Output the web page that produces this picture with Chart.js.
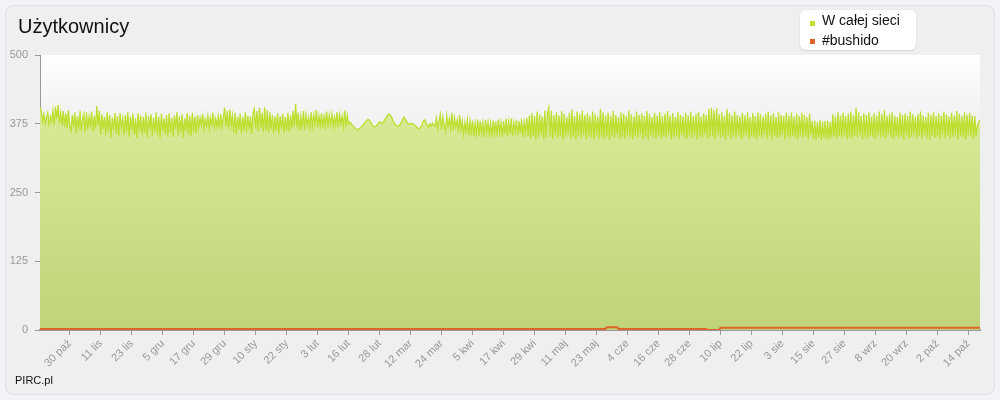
<!DOCTYPE html>
<html>
<head>
<meta charset="utf-8">
<script src="https://cdn.jsdelivr.net/npm/chart.js@4/dist/chart.umd.min.js"></script>
<style>
  html, body { margin: 0; padding: 0; }
  body { width: 1000px; height: 400px; background: #f3f4f8; position: relative; overflow: hidden; font-family: "Liberation Sans", Arial, sans-serif; }
  #panel { position: absolute; left: 5px; top: 5px; width: 988px; height: 388px; background: #efefef; border: 1px solid #e2e3e8; border-radius: 8px; }
  #chartWrap { position: absolute; left: 0; top: 0; width: 1000px; height: 400px; }
  #title { position: absolute; left: 18px; top: 15px; font-size: 20px; color: #111; }
  #legend { position: absolute; left: 800px; top: 10px; width: 116px; height: 40px; background: #fff; border-radius: 6px; box-shadow: 0 1px 2px rgba(0,0,0,0.12); }
  .li { position: absolute; left: 22px; font-size: 14px; color: #111; white-space: nowrap; }
  .sw { position: absolute; left: 10px; width: 5px; height: 5px; }
  #credit { position: absolute; left: 15px; top: 374px; font-size: 11px; color: #111; }
</style>
</head>
<body>
<div id="panel"></div>
<div id="chartWrap"><canvas id="c" width="1000" height="400"></canvas></div>
<div id="title">Użytkownicy</div>
<div id="legend"></div>
<div id="credit">PIRC.pl</div>
<script>
const seriesNames = ['W całej sieci', '#bushido'];
const seriesColors = ['#bddf2f', '#e0622b'];

// tick labels (dates) and the sample index at which each one falls (2 samples per day)
const tickLabels = ['30 paź','11 lis','23 lis','5 gru','17 gru','29 gru','10 sty','22 sty','3 lut','16 lut',
  '28 lut','12 mar','24 mar','5 kwi','17 kwi','29 kwi','11 maj','23 maj','4 cze','16 cze',
  '28 cze','10 lip','22 lip','3 sie','15 sie','27 sie','8 wrz','20 wrz','2 paź','14 paź'];
const firstTickSample = 23;
const samplesPerTick = 24;

// users in the whole network, two samples per day
const allUsers = [
405,398,380,392,376,386,395,374,388,379,399,372,406,384,409,376,395,372,398,369,
394,366,400,371,362,391,368,396,358,389,366,398,361,384,393,359,396,365,388,372,
397,360,389,366,407,372,398,356,392,365,388,354,396,361,391,350,386,364,395,357,
389,352,394,368,384,355,391,360,396,351,388,363,393,356,385,349,394,362,390,354,
387,358,395,350,389,364,392,353,386,360,396,355,388,349,393,361,385,356,391,352,
394,359,386,351,390,365,396,354,388,360,392,350,385,362,394,356,389,353,395,360,
388,357,391,368,385,372,393,366,383,371,390,367,386,373,395,368,384,370,389,366,
392,369,386,404,370,398,365,401,372,390,360,395,356,388,364,393,358,387,362,396,
359,390,364,388,357,394,402,366,398,361,404,367,395,360,405,363,400,358,396,365,
391,357,388,362,394,356,389,365,393,358,387,363,395,360,390,366,398,371,411,368,
395,362,388,370,398,364,392,372,386,368,396,370,391,373,400,369,389,371,394,367,
388,372,397,368,390,374,393,370,387,373,396,369,392,375,389,370,399,372,391,374,
378,375,372,370,367,365,364,366,367,370,372,375,378,381,383,382,378,374,371,369,
370,373,376,378,377,376,378,382,386,390,393,392,388,383,378,374,371,370,372,374,
378,384,387,383,379,376,374,375,376,374,373,371,368,366,367,369,374,380,382,377,
372,368,375,371,376,373,370,385,366,379,392,364,387,372,362,389,370,384,366,395,
363,386,369,381,360,391,365,380,356,377,362,382,354,379,359,381,352,376,357,383,
353,380,358,377,351,382,360,378,355,376,352,381,357,379,354,383,359,377,351,380,
356,384,353,379,358,385,352,377,360,382,354,380,357,384,351,378,359,386,353,390,
348,394,353,389,346,397,351,392,355,388,347,399,350,393,404,352,398,347,391,354,
396,349,390,353,398,346,393,351,387,355,395,348,401,352,389,346,397,353,392,349,
399,355,391,347,394,352,389,350,397,346,392,354,388,348,402,351,396,347,390,353,
395,346,389,352,398,349,391,355,387,347,396,351,393,348,389,354,399,350,392,346,
388,353,397,349,391,355,394,347,389,352,398,346,392,354,387,350,395,348,390,353,
396,347,389,352,393,349,398,355,390,346,394,351,387,353,396,348,391,355,388,350,
395,347,390,353,397,349,389,354,393,346,396,352,388,349,394,355,391,348,402,351,
404,352,399,347,403,355,392,349,396,353,389,346,402,354,395,348,390,352,397,349,
391,354,388,347,395,351,390,355,396,348,387,352,394,350,389,346,396,353,392,349,
388,355,393,348,397,352,390,346,394,353,387,349,396,351,391,355,389,347,395,352,
390,348,396,353,388,350,393,346,389,354,395,349,391,352,387,347,393,355,380,348,
381,346,378,349,382,345,379,350,380,347,381,346,378,349,392,352,388,348,396,353,
390,349,395,354,389,347,393,351,397,348,391,353,404,350,396,355,389,347,394,352,
391,348,396,353,388,350,394,347,390,354,397,349,392,352,400,348,389,355,393,350,
396,347,390,353,387,349,395,352,391,346,394,354,389,348,397,351,392,355,388,349,
393,353,397,348,390,354,387,350,395,346,391,353,396,349,389,352,394,347,390,355,
397,349,392,353,388,348,395,351,390,355,398,347,393,352,389,350,396,346,391,354,
395,352,390,348,389,353,372,378,382];

// users on #bushido, same samples
const bushidoUsers = [
2,2,2,2,2,2,2,2,2,2,2,2,2,2,2,2,2,2,2,2,
2,2,2,2,2,2,2,2,2,2,2,2,2,2,2,2,2,2,2,2,
2,2,2,2,2,2,2,2,2,2,2,2,2,2,2,2,2,2,2,2,
2,2,2,2,2,2,2,2,2,2,2,2,2,2,2,2,2,2,2,2,
2,2,2,2,2,2,2,2,2,2,2,2,2,2,2,2,2,2,2,2,
2,2,2,2,2,2,2,2,2,2,2,2,2,2,2,2,2,2,2,2,
2,2,2,2,2,2,2,2,2,2,2,2,2,2,2,2,2,2,2,2,
2,2,2,2,2,2,2,2,2,2,2,2,2,2,2,2,2,2,2,2,
2,2,2,2,2,2,2,2,2,2,2,2,2,2,2,2,2,2,2,2,
2,2,2,2,2,2,2,2,2,2,2,2,2,2,2,2,2,2,2,2,
2,2,2,2,2,2,2,2,2,2,2,2,2,2,2,2,2,2,2,2,
2,2,2,2,2,2,2,2,2,2,2,2,2,2,2,2,2,2,2,2,
2,2,2,2,2,2,2,2,2,2,2,2,2,2,2,2,2,2,2,2,
2,2,2,2,2,2,2,2,2,2,2,2,2,2,2,2,2,2,2,2,
2,2,2,2,2,2,2,2,2,2,2,2,2,2,2,2,2,2,2,2,
2,2,2,2,2,2,2,2,2,2,2,2,2,2,2,2,2,2,2,2,
2,2,2,2,2,2,2,2,2,2,2,2,2,2,2,2,2,2,2,2,
2,2,2,2,2,2,2,2,2,2,2,2,2,2,2,2,2,2,2,2,
2,2,2,2,2,2,2,2,2,2,2,2,2,2,2,2,2,2,2,2,
2,2,2,2,2,2,2,2,2,2,2,2,2,2,2,2,2,2,2,2,
2,2,2,2,2,2,2,2,2,2,2,2,2,2,2,2,2,2,2,2,
2,2,2,2,2,2,2,2,2,2,2,2,2,2,2,2,2,2,2,5,
5,5,5,5,5,5,5,5,2,2,2,2,2,2,2,2,2,2,2,2,
2,2,2,2,2,2,2,2,2,2,2,2,2,2,2,2,2,2,2,2,
2,2,2,2,2,2,2,2,2,2,2,2,2,2,2,2,2,2,2,2,
2,2,2,2,2,2,2,2,2,2,2,2,2,2,2,2,2,0,0,0,
0,0,0,0,0,0,0,4,4,4,4,4,4,4,4,4,4,4,4,4,
4,4,4,4,4,4,4,4,4,4,4,4,4,4,4,4,4,4,4,4,
4,4,4,4,4,4,4,4,4,4,4,4,4,4,4,4,4,4,4,4,
4,4,4,4,4,4,4,4,4,4,4,4,4,4,4,4,4,4,4,4,
4,4,4,4,4,4,4,4,4,4,4,4,4,4,4,4,4,4,4,4,
4,4,4,4,4,4,4,4,4,4,4,4,4,4,4,4,4,4,4,4,
4,4,4,4,4,4,4,4,4,4,4,4,4,4,4,4,4,4,4,4,
4,4,4,4,4,4,4,4,4,4,4,4,4,4,4,4,4,4,4,4,
4,4,4,4,4,4,4,4,4,4,4,4,4,4,4,4,4,4,4,4,
4,4,4,4,4,4,4,4,4,4,4,4,4,4,4,4,4,4,4,4,
4,4,4,4,4,4,4,4,4];

const yTicks = [0, 125, 250, 375, 500];

// sample index of each value (used as x)
const sampleIndex = allUsers.map((_, i) => i);

// legend (HTML)
const legend = document.getElementById('legend');
seriesNames.forEach((n, i) => {
  const sw = document.createElement('div'); sw.className = 'sw';
  sw.style.top = (11 + i * 18) + 'px'; sw.style.background = seriesColors[i];
  const li = document.createElement('div'); li.className = 'li';
  li.style.top = (2 + i * 20) + 'px'; li.textContent = n;
  legend.appendChild(sw); legend.appendChild(li);
});

const plotBg = {
  id: 'plotBg',
  beforeDraw(chart) {
    const { ctx, chartArea: a } = chart;
    const g = ctx.createLinearGradient(0, a.top, 0, a.bottom);
    g.addColorStop(0, '#ffffff');
    g.addColorStop(0.2, '#f3f3f3');
    g.addColorStop(1, '#e6e6e6');
    ctx.save(); ctx.fillStyle = g; ctx.fillRect(a.left, a.top, a.width, a.height); ctx.restore();
  }
};

function greenFill(context) {
  const { chart } = context; const { ctx, chartArea } = chart;
  if (!chartArea) return 'rgba(200,220,130,1)';
  const g = ctx.createLinearGradient(0, chartArea.top, 0, chartArea.bottom);
  g.addColorStop(0, '#def09c');
  g.addColorStop(1, '#c1d378');
  return g;
}

Chart.defaults.font.family = '"Liberation Sans", Arial, sans-serif';
new Chart(document.getElementById('c'), {
  type: 'line',
  data: {
    labels: sampleIndex,
    datasets: [
      { label: seriesNames[1], data: bushidoUsers, borderColor: seriesColors[1], borderWidth: 2, pointRadius: 0, tension: 0, fill: false, order: 0 },
      { label: seriesNames[0], data: allUsers, borderColor: seriesColors[0], backgroundColor: greenFill, borderWidth: 1.3, pointRadius: 0, tension: 0, fill: 'origin', order: 1 }
    ]
  },
  options: {
    responsive: false, animation: false,
    layout: { padding: { top: 55, right: 20, left: 0, bottom: 0 } },
    plugins: { legend: { display: false }, title: { display: false }, tooltip: { enabled: false } },
    scales: {
      x: {
        type: 'linear', min: 0, max: allUsers.length - 1,
        afterFit(s) { s.height = 70; },
        afterBuildTicks(s) { s.ticks = tickLabels.map((t, k) => ({ value: firstTickSample + k * samplesPerTick })); },
        border: { display: true, color: '#999', width: 2 },
        grid: { drawOnChartArea: false, drawTicks: true, tickLength: 5, color: '#999' },
        ticks: {
          autoSkip: false, minRotation: 45, maxRotation: 45, color: '#999', font: { size: 11 }, padding: 2,
          callback: (v, i) => tickLabels[i]
        }
      },
      y: {
        min: 0, max: 500,
        afterFit(s) { s.width = 40; },
        afterBuildTicks(s) { s.ticks = yTicks.map(v => ({ value: v })); },
        border: { display: true, color: '#999', width: 1 },
        grid: { drawOnChartArea: false, drawTicks: true, tickLength: 5, color: '#999' },
        ticks: { color: '#999', font: { size: 11 }, padding: 7 }
      }
    }
  },
  plugins: [plotBg]
});
</script>
</body>
</html>
